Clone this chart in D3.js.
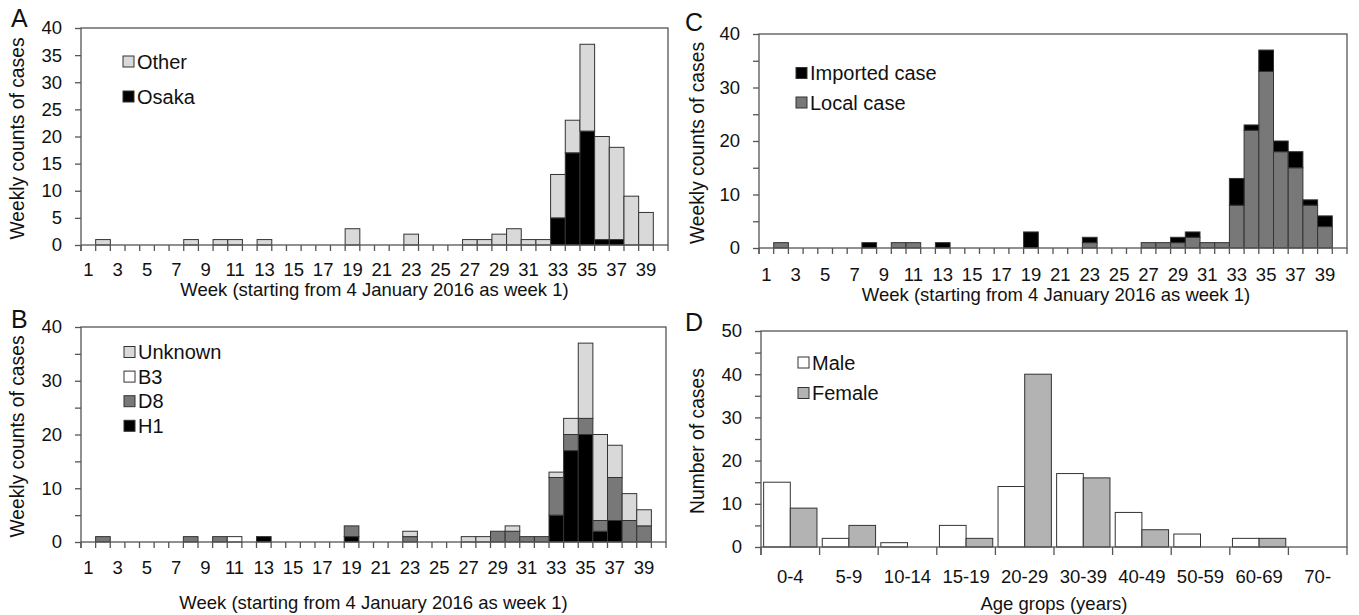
<!DOCTYPE html>
<head>
<meta charset="utf-8">
<script src="https://d3js.org/d3.v7.min.js"></script>
<style>
body{margin:0;background:#fff;}
text{font-family:"Liberation Sans",Arial,sans-serif;font-size:18.5px;fill:#111;}
text.letter{font-size:25px;}
text.ytitle{font-size:19.3px;}
text.lgd{font-size:20px;}
.axis .tick text{font-size:18.5px;}
.box{fill:none;stroke:#555;stroke-width:1.3;}
.axis path.domain{display:none;}
.axis .tick line{stroke:#555;stroke-width:1.3;}
line.xtick{stroke:#555;stroke-width:1.3;}
rect.bar, rect.key{stroke:#333;stroke-width:1;}
</style>
</head>
<body>
<script>
// weeks of 2016 (week 1 = 4 January)
const weeks = [1,2,3,4,5,6,7,8,9,10,11,12,13,14,15,16,17,18,19,20,
               21,22,23,24,25,26,27,28,29,30,31,32,33,34,35,36,37,38,39,40];
const weekLabels = [1,3,5,7,9,11,13,15,17,19,21,23,25,27,29,31,33,35,37,39];

// A: by prefecture
const osakaA = [0,0,0,0,0,0,0,0,0,0, 0,0,0,0,0,0,0,0,0,0, 0,0,0,0,0,0,0,0,0,0, 0,0,5,17,21,1,1,0,0,0];
const otherA = [0,1,0,0,0,0,0,1,0,1, 1,0,1,0,0,0,0,0,3,0, 0,0,2,0,0,0,1,1,2,3, 1,1,8,6,16,19,17,9,6,0];

// B: by genotype
const h1B      = [0,0,0,0,0,0,0,0,0,0, 0,0,1,0,0,0,0,0,1,0, 0,0,0,0,0,0,0,0,0,0, 0,0,5,17,20,2,4,0,0,0];
const d8B      = [0,1,0,0,0,0,0,1,0,1, 0,0,0,0,0,0,0,0,2,0, 0,0,1,0,0,0,0,0,2,2, 1,1,7,3,3,2,8,4,3,0];
const b3B      = [0,0,0,0,0,0,0,0,0,0, 1,0,0,0,0,0,0,0,0,0, 0,0,0,0,0,0,0,0,0,0, 0,0,0,0,0,0,0,0,0,0];
const unknownB = [0,0,0,0,0,0,0,0,0,0, 0,0,0,0,0,0,0,0,0,0, 0,0,1,0,0,0,1,1,0,1, 0,0,1,3,14,16,6,5,3,0];

// C: imported vs local
const localC    = [0,1,0,0,0,0,0,0,0,1, 1,0,0,0,0,0,0,0,0,0, 0,0,1,0,0,0,1,1,1,2, 1,1,8,22,33,18,15,8,4,0];
const importedC = [0,0,0,0,0,0,0,1,0,0, 0,0,1,0,0,0,0,0,3,0, 0,0,1,0,0,0,0,0,1,1, 0,0,5,1,4,2,3,1,2,0];

// D: age and sex
const ageGroups = ['0-4','5-9','10-14','15-19','20-29','30-39','40-49','50-59','60-69','70-'];
const maleD   = [15,2,1,5,14,17,8,3,2,0];
const femaleD = [9,5,0,2,40,16,4,0,2,0];

const LIGHT = '#d9d9d9', DARK = '#787878', BLACK = '#000', WHITE = '#fff', MID = '#b3b3b3';

const svg = d3.select('body').append('svg')
   .attr('width', 1359)
   .attr('height', 615);

svg.append('rect').attr('width', 1359).attr('height', 615).attr('fill', '#fff');

function frame(g, p, y) {
   g.append('rect').attr('class', 'box')
      .attr('x', p.left).attr('y', p.top)
      .attr('width', p.right - p.left).attr('height', p.bottom - p.top);

   // y axis line runs a little below the baseline
   g.append('line').attr('class', 'xtick')
      .attr('x1', p.left).attr('x2', p.left)
      .attr('y1', p.bottom).attr('y2', p.bottom + p.tickLen);

   g.append('g')
      .attr('class', 'axis')
      .attr('transform', `translate(${p.left},0)`)
      .call(d3.axisLeft(y)
         .tickValues(p.yTicks)
         .tickSize(6)
         .tickSizeOuter(0)
         .tickPadding(13)
         .tickFormat(d => p.yLabels.includes(d) ? d : ''));

   g.append('text')
      .attr('class', 'letter')
      .attr('x', p.letterX).attr('y', p.letterY)
      .text(p.letter);

   g.append('text')
      .attr('class', 'ytitle')
      .attr('transform', `translate(${p.yTitleX},${(p.top + p.bottom) / 2 + 2}) rotate(-90)`)
      .attr('text-anchor', 'middle')
      .attr('dy', '0.35em')
      .text(p.yTitle);

   g.append('text')
      .attr('x', (p.left + p.right) / 2 + p.titleShift)
      .attr('y', p.titleY)
      .attr('dy', '0.35em')
      .attr('text-anchor', 'middle')
      .text(p.xTitle);

   const lg = g.selectAll('g.legend').data(p.legend).join('g')
      .attr('class', 'legend')
      .attr('transform', (d, i) => `translate(${p.legendX},${p.legendY + i * p.legendGap})`);
   lg.append('rect').attr('class', 'key')
      .attr('x', 0).attr('y', -5.5).attr('width', 11).attr('height', 11)
      .attr('fill', d => d.color);
   lg.append('text')
      .attr('class', 'lgd')
      .attr('x', 14).attr('dy', '0.35em')
      .text(d => d.label);
}

function weekPanel(p) {
   const g = svg.append('g');
   const x = d3.scaleBand().domain(weeks).range([p.left, p.right]);
   const y = d3.scaleLinear().domain([0, p.yMax]).range([p.bottom, p.top]);

   const rows = weeks.map((w, i) => {
      const r = { week: w };
      p.series.forEach(s => r[s.key] = s.values[i]);
      return r;
   });
   const stacked = d3.stack().keys(p.series.map(s => s.key))(rows);

   g.selectAll('g.layer').data(stacked).join('g')
      .attr('class', 'layer')
      .attr('fill', (d, i) => p.series[i].color)
      .selectAll('rect').data(d => d.filter(v => v[1] - v[0] > 0)).join('rect')
      .attr('class', 'bar')
      .attr('x', d => x(d.data.week))
      .attr('width', x.bandwidth())
      .attr('y', d => y(d[1]))
      .attr('height', d => y(d[0]) - y(d[1]));

   frame(g, p, y);

   // tick marks at week boundaries
   const edges = weeks.map(w => x(w)).concat([p.right]);
   g.selectAll('line.wk').data(edges).join('line')
      .attr('class', 'xtick wk')
      .attr('x1', d => d).attr('x2', d => d)
      .attr('y1', p.bottom).attr('y2', p.bottom + p.tickLen);

   const xa = g.append('g')
      .attr('class', 'axis')
      .attr('transform', `translate(0,${p.bottom})`)
      .call(d3.axisBottom(x).tickValues(weekLabels).tickSize(0));
   xa.selectAll('.tick text').attr('y', p.labelY - p.bottom).attr('dy', '0.35em');
}

weekPanel({
   letter: 'A', letterX: 11, letterY: 27,
   left: 81, right: 668, top: 28, bottom: 245, tickLen: 6,
   yMax: 40, yTicks: [0,5,10,15,20,25,30,35,40], yLabels: [0,5,10,15,20,25,30,35,40],
   yTitle: 'Weekly counts of cases', yTitleX: 17,
   xTitle: 'Week (starting from 4 January 2016 as week 1)', titleY: 290, titleShift: 0, labelY: 270,
   series: [{ key: 'Osaka', values: osakaA, color: BLACK }, { key: 'Other', values: otherA, color: LIGHT }],
   legend: [{ label: 'Other', color: LIGHT }, { label: 'Osaka', color: BLACK }],
   legendX: 123, legendY: 61.5, legendGap: 35
});

weekPanel({
   letter: 'B', letterX: 11, letterY: 328,
   left: 81, right: 666, top: 327, bottom: 542, tickLen: 6,
   yMax: 40, yTicks: [0,5,10,15,20,25,30,35,40], yLabels: [0,10,20,30,40],
   yTitle: 'Weekly counts of cases', yTitleX: 17,
   xTitle: 'Week (starting from 4 January 2016 as week 1)', titleY: 603, titleShift: 0, labelY: 568,
   series: [{ key: 'H1', values: h1B, color: BLACK }, { key: 'D8', values: d8B, color: DARK },
            { key: 'B3', values: b3B, color: WHITE }, { key: 'Unknown', values: unknownB, color: LIGHT }],
   legend: [{ label: 'Unknown', color: LIGHT }, { label: 'B3', color: WHITE },
            { label: 'D8', color: DARK }, { label: 'H1', color: BLACK }],
   legendX: 124, legendY: 352, legendGap: 24.6
});

weekPanel({
   letter: 'C', letterX: 685, letterY: 31,
   left: 759, right: 1347, top: 34, bottom: 248, tickLen: 6,
   yMax: 40, yTicks: [0,5,10,15,20,25,30,35,40], yLabels: [0,10,20,30,40],
   yTitle: 'Weekly counts of cases', yTitleX: 697,
   xTitle: 'Week (starting  from 4 January 2016 as week 1)', titleY: 295, titleShift: 3, labelY: 275,
   series: [{ key: 'Local', values: localC, color: DARK }, { key: 'Imported', values: importedC, color: BLACK }],
   legend: [{ label: 'Imported case', color: BLACK }, { label: 'Local case', color: DARK }],
   legendX: 796, legendY: 73, legendGap: 29.5
});

// D: grouped bars by age
(function () {
   const p = {
      letter: 'D', letterX: 685, letterY: 331,
      left: 761, right: 1347, top: 331, bottom: 547, tickLen: 8,
      yMax: 50, yTicks: [0,5,10,15,20,25,30,35,40,45,50], yLabels: [0,10,20,30,40,50],
      yTitle: 'Number of cases', yTitleX: 697,
      xTitle: 'Age grops (years)', titleY: 604, titleShift: 0, labelY: 577,
      legend: [{ label: 'Male', color: WHITE }, { label: 'Female', color: MID }],
      legendX: 798, legendY: 362.5, legendGap: 30.5
   };
   const g = svg.append('g');
   const x0 = d3.scaleBand().domain(ageGroups).range([p.left, p.right]).paddingInner(0.09).paddingOuter(0.045);
   const x1 = d3.scaleBand().domain(['Male', 'Female']).range([0, x0.bandwidth()]);
   const y = d3.scaleLinear().domain([0, p.yMax]).range([p.bottom, p.top]);
   const rows = ageGroups.map((a, i) => ({ age: a, Male: maleD[i], Female: femaleD[i] }));
   const colors = { Male: WHITE, Female: MID };

   g.selectAll('g.grp').data(rows).join('g')
      .attr('class', 'grp')
      .attr('transform', d => `translate(${x0(d.age)},0)`)
      .selectAll('rect').data(d => ['Male', 'Female'].map(k => ({ k, v: d[k] })).filter(e => e.v > 0)).join('rect')
      .attr('class', 'bar')
      .attr('x', d => x1(d.k))
      .attr('width', x1.bandwidth())
      .attr('y', d => y(d.v))
      .attr('height', d => y(0) - y(d.v))
      .attr('fill', d => colors[d.k]);

   frame(g, p, y);

   const step = (p.right - p.left) / ageGroups.length;
   const edges = ageGroups.map((a, i) => p.left + i * step).concat([p.right]);
   g.selectAll('line.ag').data(edges).join('line')
      .attr('class', 'xtick ag')
      .attr('x1', d => d).attr('x2', d => d)
      .attr('y1', p.bottom).attr('y2', p.bottom + p.tickLen);

   const xa = g.append('g')
      .attr('class', 'axis')
      .attr('transform', `translate(0,${p.bottom})`)
      .call(d3.axisBottom(x0).tickSize(0));
   xa.selectAll('.tick text').attr('y', p.labelY - p.bottom).attr('dy', '0.35em');
})();
</script>
</body>
